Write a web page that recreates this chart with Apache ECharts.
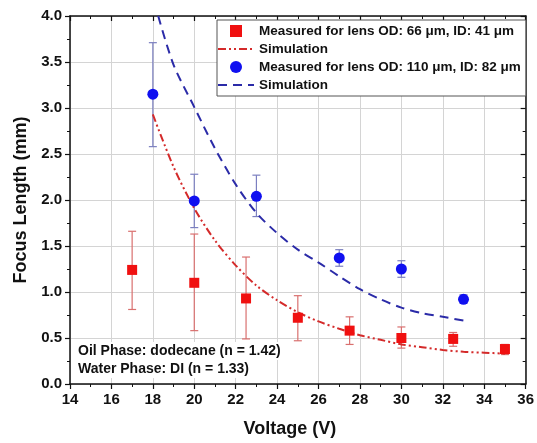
<!DOCTYPE html>
<html>
<head>
<meta charset="utf-8">
<script src="https://cdn.jsdelivr.net/npm/echarts@6/dist/echarts.min.js"></script>
<style>
    html, body { margin: 0; padding: 0; background: #ffffff; }
    #chart { width: 537px; height: 443px; }
</style>
</head>
<body>
<div id="chart"></div>
<script>
const FONT = "Liberation Sans, Arial, sans-serif";

// measured, lens OD 66 um / ID 41 um
const redVoltage = [17, 20, 22.5, 25, 27.5, 30, 32.5, 35];
const redFocus = [1.24, 1.10, 0.93, 0.72, 0.58, 0.50, 0.49, 0.38];
const redLow = [0.81, 0.58, 0.49, 0.47, 0.43, 0.39, 0.41, 0.32];
const redHigh = [1.66, 1.63, 1.38, 0.96, 0.73, 0.62, 0.56, 0.43];

// measured, lens OD 110 um / ID 82 um
const blueVoltage = [18, 20, 23, 27, 30, 33];
const blueFocus = [3.15, 1.99, 2.04, 1.37, 1.25, 0.92];
const blueLow = [2.58, 1.70, 1.82, 1.28, 1.16, 0.88];
const blueHigh = [3.71, 2.28, 2.27, 1.46, 1.34, 0.97];

// simulation curves
const simRedVoltage = [18, 19, 20, 21, 22, 23, 24, 25, 26, 27, 28, 29, 30, 31, 32, 33, 34, 35];
const simRedFocus = [2.93, 2.36, 1.91, 1.56, 1.29, 1.07, 0.91, 0.78, 0.68, 0.60, 0.53, 0.48, 0.43, 0.40, 0.37, 0.35, 0.34, 0.33];
const simBlueVoltage = [18.26, 19, 20, 21, 22, 23, 24, 25, 26, 27, 28, 29, 30, 31, 32, 33];
const simBlueFocus = [4.0, 3.47, 3.01, 2.56, 2.17, 1.86, 1.64, 1.46, 1.32, 1.17, 1.03, 0.92, 0.83, 0.77, 0.73, 0.69];

const legendNames = [
    "Measured for lens OD: 66 \u03bcm, ID: 41 \u03bcm",
    "Simulation",
    "Measured for lens OD: 110 \u03bcm, ID: 82 \u03bcm",
    "Simulation "
];

const notes = ["Oil Phase: dodecane (n = 1.42)", "Water Phase: DI (n = 1.33)"];

function zip(xs, ys) {
    return xs.map((x, i) => [x, ys[i]]);
}

function errorData(xs, lows, highs) {
    return xs.map((x, i) => [x, lows[i], highs[i]]);
}

function errorBar(color) {
    return function (params, api) {
        const x = api.value(0);
        const lo = api.coord([x, api.value(1)]);
        const hi = api.coord([x, api.value(2)]);
        const half = 4;
        const style = { stroke: color, lineWidth: 1.2 };
        return {
            type: "group",
            children: [
                { type: "line", shape: { x1: lo[0], y1: lo[1], x2: hi[0], y2: hi[1] }, style: style },
                { type: "line", shape: { x1: hi[0] - half, y1: hi[1], x2: hi[0] + half, y2: hi[1] }, style: style },
                { type: "line", shape: { x1: lo[0] - half, y1: lo[1], x2: lo[0] + half, y2: lo[1] }, style: style }
            ]
        };
    };
}

function makeAxis(extra) {
    return Object.assign({
        type: "value",
        axisLine: { show: true, onZero: false, lineStyle: { color: "#111", width: 1.5 } },
        axisTick: { show: true, inside: false, length: 5, lineStyle: { color: "#111", width: 1.2 } },
        minorTick: { show: true, splitNumber: 2, length: 3, lineStyle: { color: "#111", width: 1 } },
        splitLine: { show: false }
    }, extra);
}

const hiddenSymbol = { color: "rgba(0,0,0,0)", borderWidth: 0, opacity: 0 };

const chart = echarts.init(document.getElementById("chart"), null, { renderer: "canvas" });

chart.setOption({
    backgroundColor: "#ffffff",
    animation: false,
    textStyle: { fontFamily: FONT },
    grid: { left: 70, right: 11, top: 16, bottom: 59 },
    legend: {
        orient: "vertical",
        left: 217,
        top: 20,
        padding: [4, 5, 4, 0],
        itemWidth: 36,
        itemHeight: 12,
        itemGap: 4,
        backgroundColor: "#ffffff",
        borderColor: "#555",
        borderWidth: 1,
        borderRadius: 0,
        selectedMode: false,
        textStyle: { fontFamily: FONT, fontSize: 13.5, fontWeight: "bold", color: "#111" },
        data: [
            { name: legendNames[0], icon: "path://M0,0h10v10h-10z" },
            { name: legendNames[1], itemStyle: hiddenSymbol },
            { name: legendNames[2], icon: "circle" },
            { name: legendNames[3], itemStyle: hiddenSymbol }
        ]
    },
    xAxis: [
        makeAxis({
            position: "bottom",
            min: 14,
            max: 36,
            interval: 2,
            name: "Voltage (V)",
            nameLocation: "middle",
            nameGap: 36,
            nameTextStyle: { fontFamily: FONT, fontSize: 18, fontWeight: "bold", color: "#111", padding: [0, 16, 0, 0] },
            axisLabel: { fontFamily: FONT, fontSize: 15, fontWeight: "bold", color: "#111", margin: 8 },
            splitLine: { show: true, lineStyle: { color: "#d4d4d4", width: 1 } }
        }),
        makeAxis({
            position: "top",
            min: 14,
            max: 36,
            interval: 2,
            axisTick: { show: true, inside: true, length: 5, lineStyle: { color: "#111", width: 1.2 } },
            minorTick: { show: true, splitNumber: 2, length: 3, lineStyle: { color: "#111", width: 1 } },
            axisLabel: { show: false }
        })
    ],
    yAxis: [
        makeAxis({
            position: "left",
            min: 0,
            max: 4,
            interval: 0.5,
            name: "Focus Length (mm)",
            nameLocation: "middle",
            nameGap: 40,
            nameTextStyle: { fontFamily: FONT, fontSize: 18, fontWeight: "bold", color: "#111" },
            axisLabel: {
                fontFamily: FONT, fontSize: 15, fontWeight: "bold", color: "#111", margin: 8,
                formatter: v => v.toFixed(1)
            },
            splitLine: { show: true, lineStyle: { color: "#d4d4d4", width: 1 } }
        }),
        makeAxis({
            position: "right",
            min: 0,
            max: 4,
            interval: 0.5,
            axisTick: { show: true, inside: true, length: 5, lineStyle: { color: "#111", width: 1.2 } },
            minorTick: { show: true, splitNumber: 2, length: 3, lineStyle: { color: "#111", width: 1 } },
            axisLabel: { show: false }
        })
    ],
    graphic: notes.map((text, i) => ({
        type: "text",
        left: 76,
        top: 342 + i * 18,
        z: 10,
        style: {
            text: text, fontFamily: FONT, fontSize: 14, fontWeight: "bold", fill: "#111",
            backgroundColor: "#ffffff", padding: [2, 2, 2, 2]
        }
    })),
    series: [
        {
            name: "redErr",
            type: "custom",
            renderItem: errorBar("#d9706f"),
            encode: { x: 0, y: [1, 2] },
            data: errorData(redVoltage, redLow, redHigh),
            z: 2
        },
        {
            name: "blueErr",
            type: "custom",
            renderItem: errorBar("#7b7fc0"),
            encode: { x: 0, y: [1, 2] },
            data: errorData(blueVoltage, blueLow, blueHigh),
            z: 2
        },
        {
            name: legendNames[1],
            type: "line",
            data: zip(simRedVoltage, simRedFocus),
            smooth: 0.3,
            symbol: "none",
            clip: true,
            lineStyle: { color: "#d42a2a", width: 2, type: [8, 3, 2, 3, 2, 3] },
            itemStyle: { color: "#d42a2a" },
            z: 3
        },
        {
            name: legendNames[3],
            type: "line",
            data: zip(simBlueVoltage, simBlueFocus),
            smooth: 0.3,
            symbol: "none",
            clip: true,
            lineStyle: { color: "#2b2ba8", width: 2, type: [9, 6] },
            itemStyle: { color: "#2b2ba8" },
            z: 3
        },
        {
            name: legendNames[0],
            type: "scatter",
            data: zip(redVoltage, redFocus),
            symbol: "rect",
            symbolSize: 10,
            itemStyle: { color: "#f01010", opacity: 1 },
            z: 4
        },
        {
            name: legendNames[2],
            type: "scatter",
            data: zip(blueVoltage, blueFocus),
            symbol: "circle",
            symbolSize: 11,
            itemStyle: { color: "#1010f0", opacity: 1 },
            z: 4
        }
    ]
});
</script>
</body>
</html>
